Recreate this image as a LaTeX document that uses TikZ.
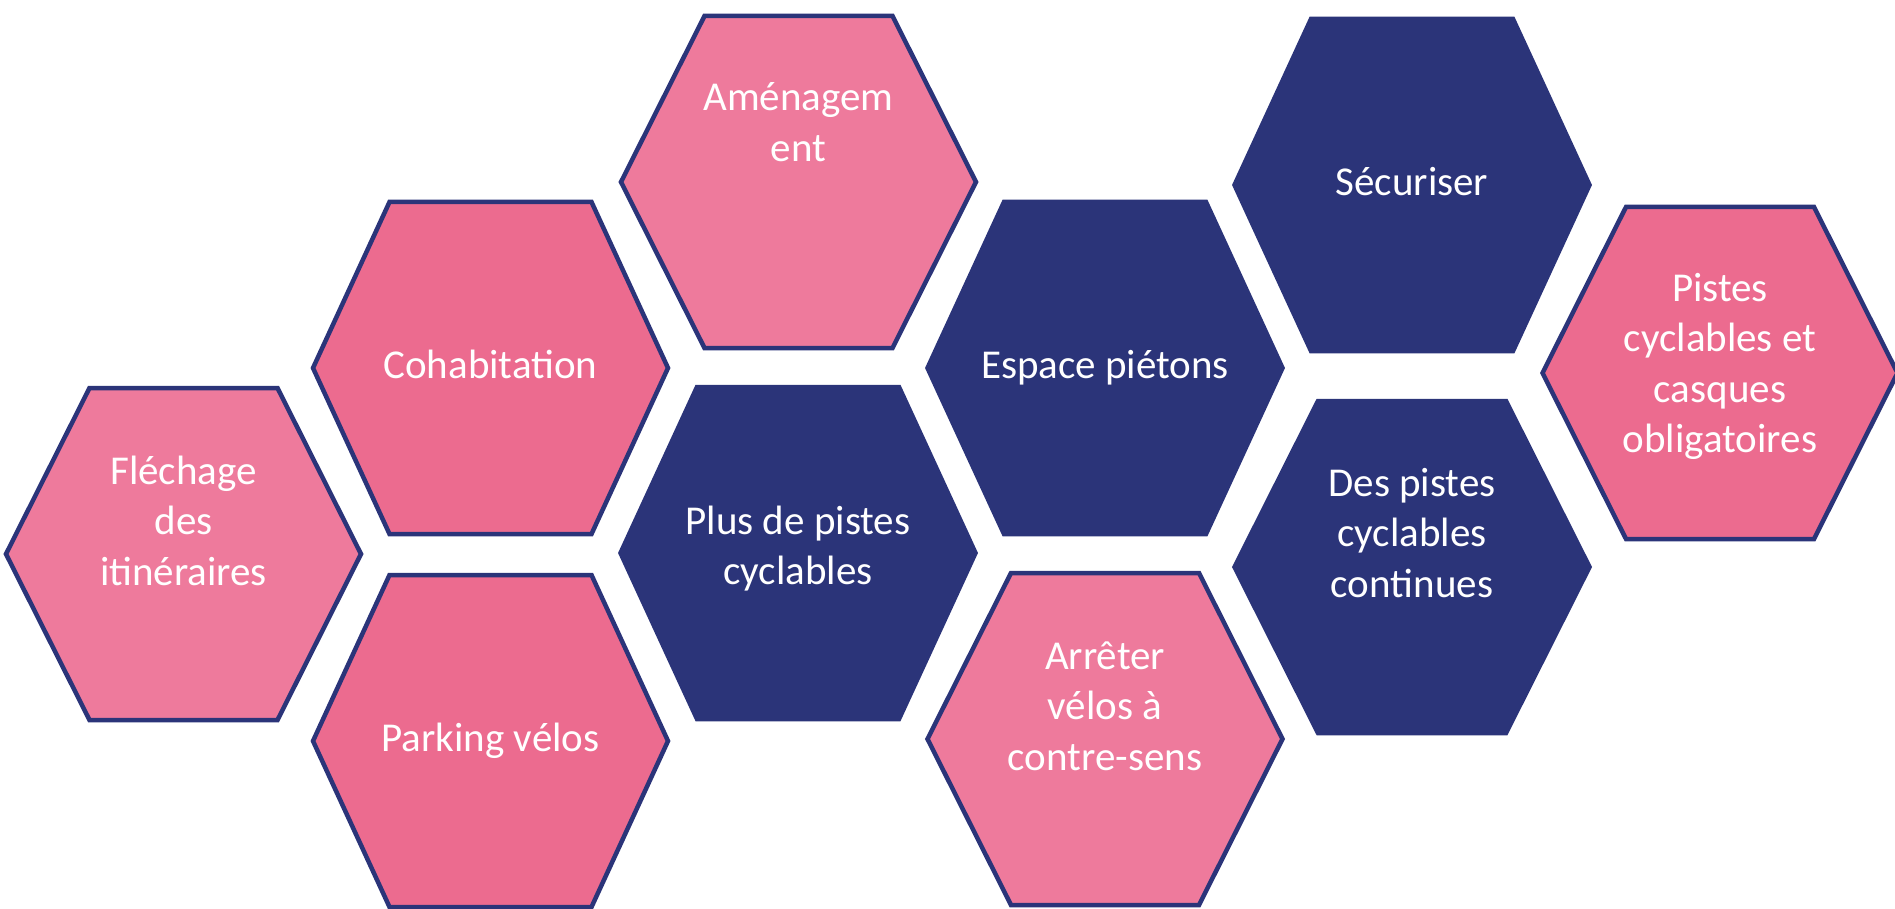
\documentclass[tikz,border=0pt]{standalone}
\usepackage{fontspec}
\setmainfont{Carlito}
\definecolor{navy}{HTML}{2B3479}
\definecolor{pinkL}{HTML}{EE7A9C}
\definecolor{pinkD}{HTML}{EC6B8F}
\tikzset{
  hex/.style={draw=navy, line width=4.5pt, line join=miter},
  lbl/.style={text=white, align=center, inner sep=0pt,
    font=\fontsize{41}{50.5}\selectfont,
    execute at begin node=\strut, execute at end node=\strut},
}
\newcommand\hexwide[2]{\draw[hex,fill=#2] (#1) ++(-177.5,0) -- ++(76.5,-166) -- ++(202,0) -- ++(76.5,166) -- ++(-76.5,166) -- ++(-202,0) -- cycle;}
\newcommand\hexnarrow[2]{\draw[hex,fill=#2] (#1) ++(-177.5,0) -- ++(83.5,-166) -- ++(188,0) -- ++(83.5,166) -- ++(-83.5,166) -- ++(-188,0) -- cycle;}
\begin{document}
\begin{tikzpicture}[x=1pt,y=-1pt]
\useasboundingbox (0,0) rectangle (1895,909);
% centres
\coordinate (cFl) at (183.5,554);
\coordinate (cCo) at (490.5,368);
\coordinate (cPa) at (490.5,741);
\coordinate (cPl) at (798,553);
\coordinate (cAm) at (798.5,182);
\coordinate (cEs) at (1105,368);
\coordinate (cAr) at (1105,739);
\coordinate (cSe) at (1412,185);
\coordinate (cDe) at (1412,567);
\coordinate (cPi) at (1720,373);
% hexagons
\hexnarrow{cFl}{pinkL}
\hexwide{cCo}{pinkD}
\hexwide{cPa}{pinkD}
\hexwide{cPl}{navy}
\hexnarrow{cAm}{pinkL}
\hexwide{cEs}{navy}
\hexnarrow{cAr}{pinkL}
\hexwide{cSe}{navy}
\hexnarrow{cDe}{navy}
\hexnarrow{cPi}{pinkD}
% labels
\node[lbl, anchor=north] (tFl) at (183.5,455.6) {Fléchage\\des\\itinéraires};
\node[lbl] (tCo) at (cCo) {Cohabitation};
\node[lbl] (tPa) at (cPa) {Parking vélos};
\node[lbl] (tPl) at (cPl) {Plus de pistes\\cyclables};
\node[lbl, anchor=north] (tAm) at (798.5,82.6) {Aménagem\\ent};
\node[lbl] (tEs) at (cEs) {Espace piétons};
\node[lbl, anchor=north] (tAr) at (1105,641.6) {Arrêter\\vélos à\\contre-sens};
\node[lbl] (tSe) at (cSe) {Sécuriser};
\node[lbl, anchor=north] (tDe) at (1412,467.6) {Des pistes\\cyclables\\continues};
\node[lbl, anchor=north] (tPi) at (1720,272.6) {Pistes\\cyclables et\\casques\\obligatoires};
\end{tikzpicture}
\end{document}
